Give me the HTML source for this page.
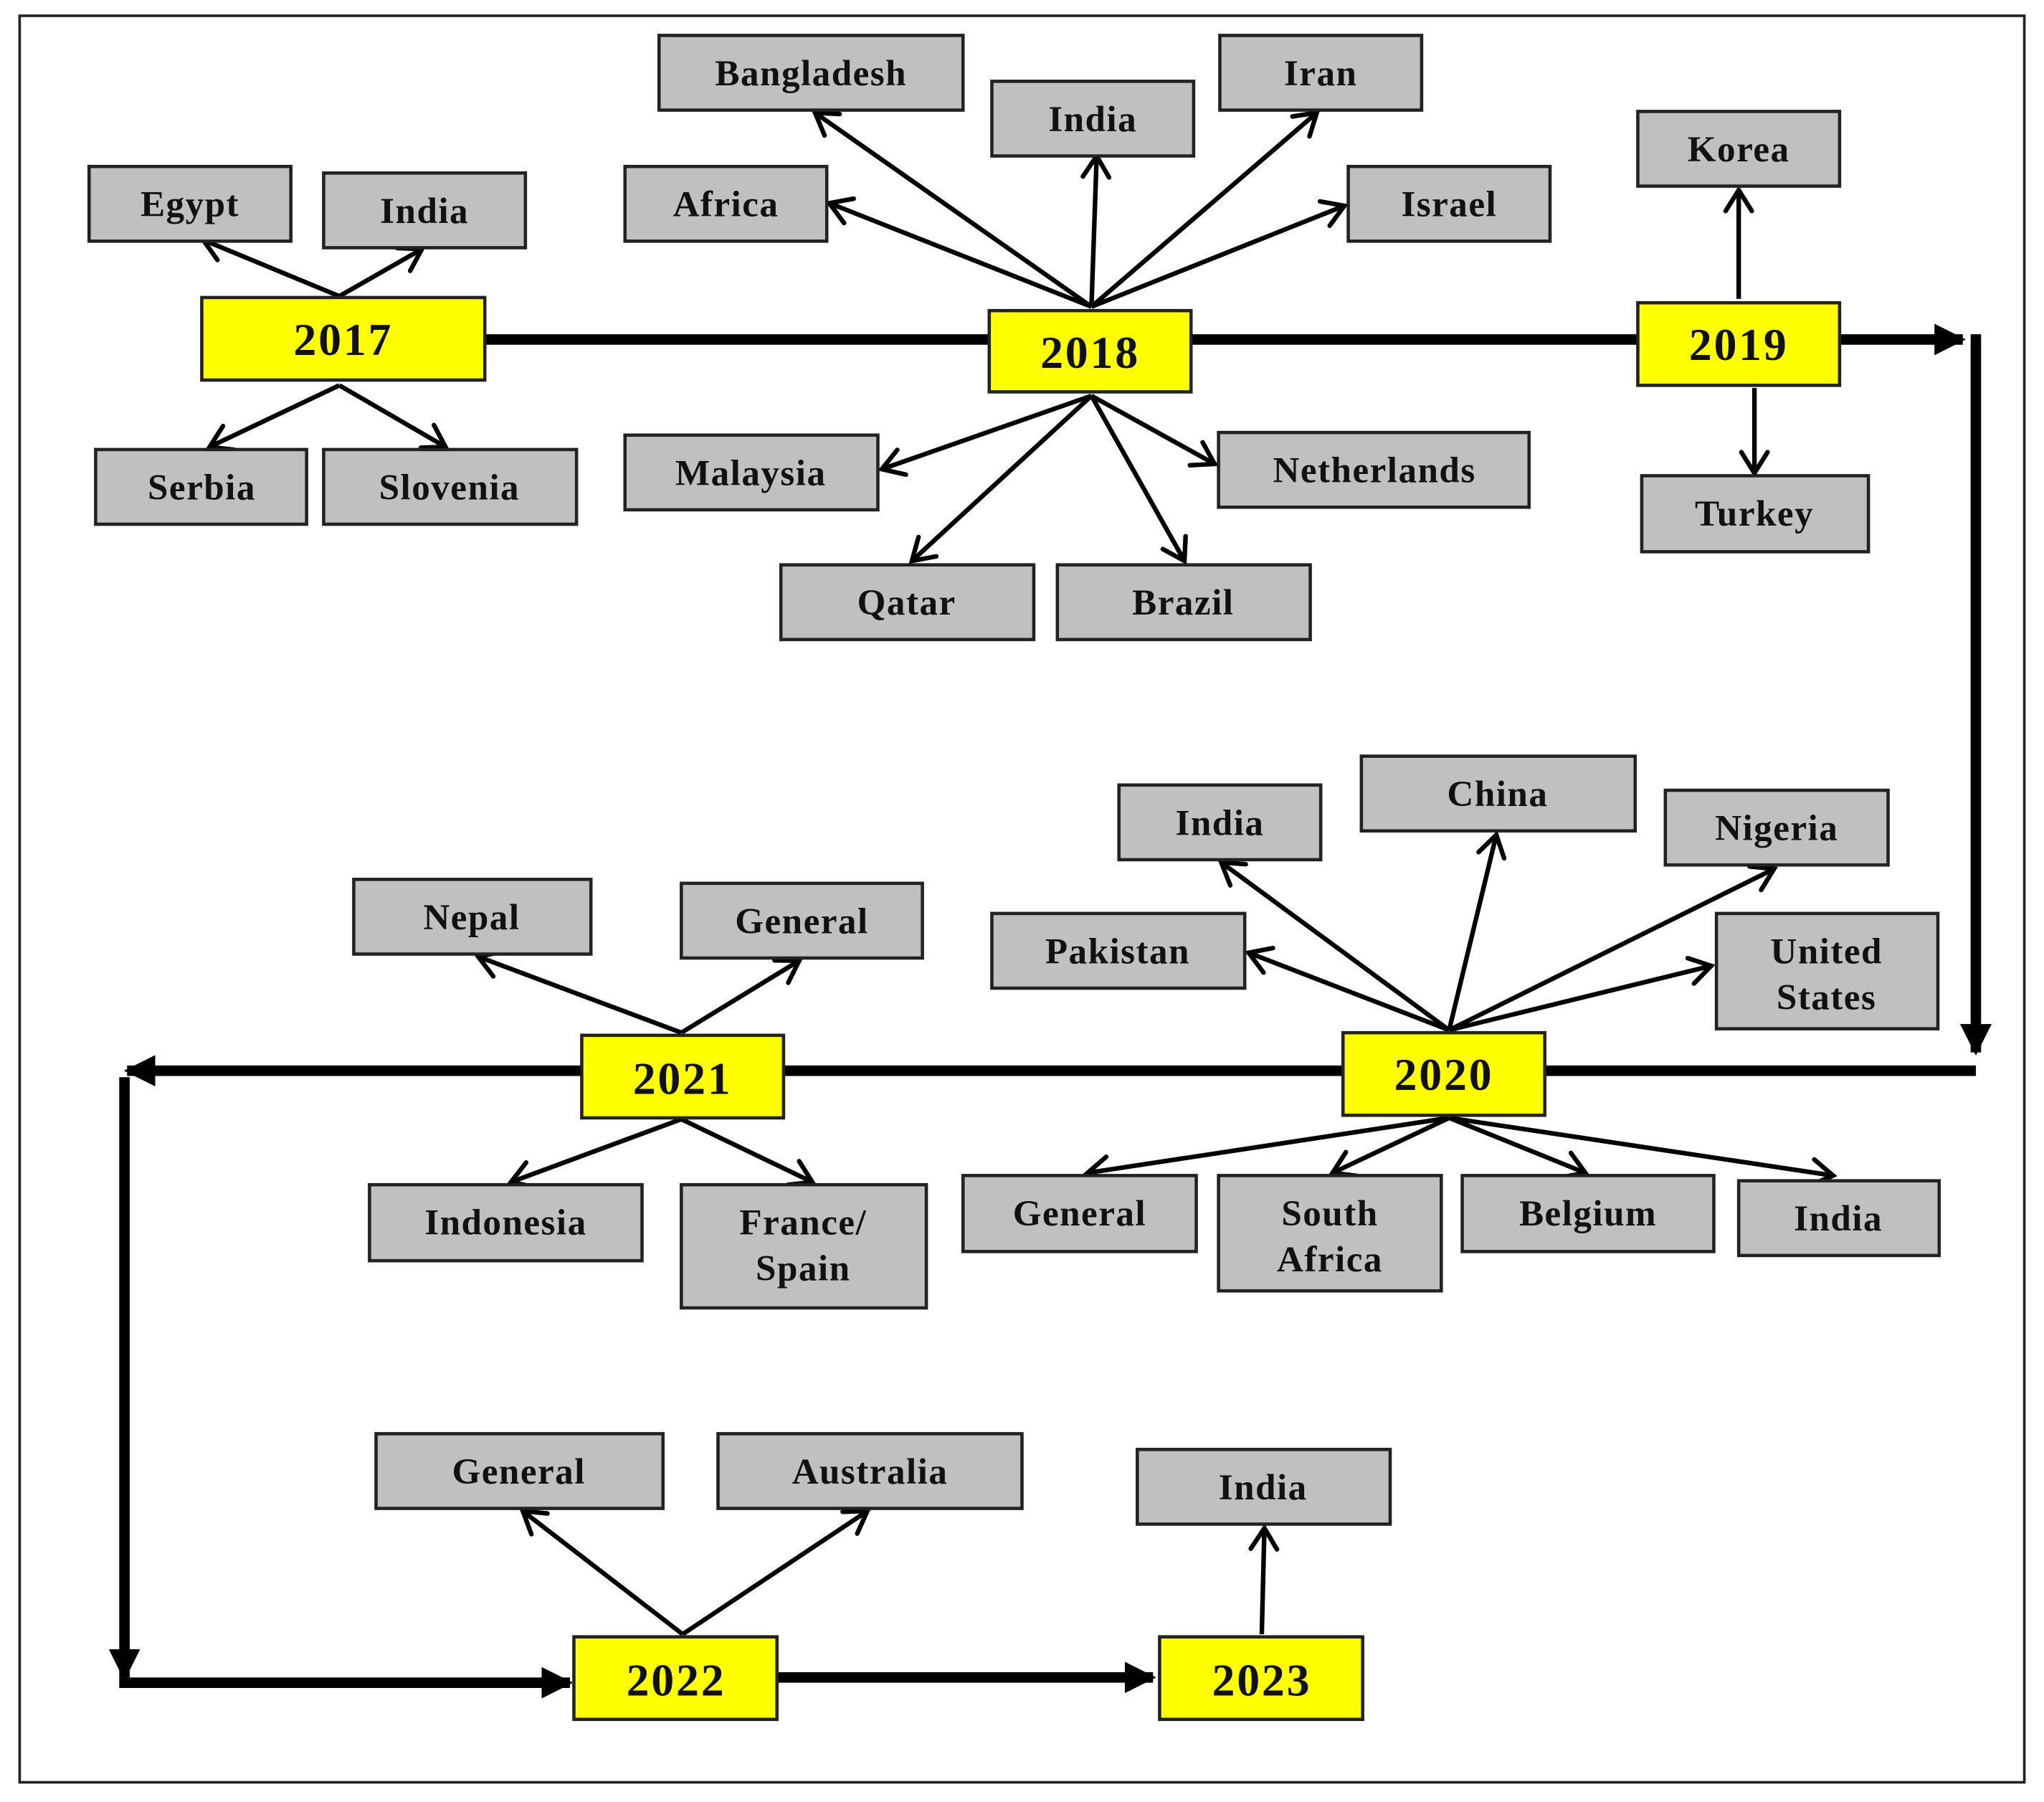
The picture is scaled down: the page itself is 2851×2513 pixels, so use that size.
<!DOCTYPE html>
<html><head><meta charset="utf-8"><style>
html,body{margin:0;padding:0;background:#fff;}
svg{display:block;}
text{font-family:"Liberation Serif",serif;font-weight:bold;fill:#111;text-anchor:middle;dominant-baseline:central;}
.c{font-size:28px;letter-spacing:0.8px;}
.y{font-size:35px;letter-spacing:1.5px;}
rect.g{fill:#c0c0c0;stroke:#222;stroke-width:2.5;}
rect.yb{fill:#ffff00;stroke:#222;stroke-width:2.5;}
line.a{stroke:#000;stroke-width:3.5;marker-end:url(#open);}
.t{stroke:#000;stroke-width:8;fill:none;}
</style></head><body>
<svg width="2851" height="2513" viewBox="0 0 1560 1375" xmlns="http://www.w3.org/2000/svg">
<defs>
<marker id="open" viewBox="0 0 24 24" refX="21" refY="12" markerWidth="24" markerHeight="24" orient="auto" markerUnits="userSpaceOnUse" style="overflow:visible">
<polyline points="5,2 21,12 5,22" fill="none" stroke="#000" stroke-width="3.5" stroke-linecap="round"/>
</marker>
<marker id="fill" viewBox="0 0 10 10" refX="9" refY="5" markerWidth="3" markerHeight="3" orient="auto">
<path d="M0,0 L10,5 L0,10 z" fill="#000"/>
</marker>
</defs>
<rect x="15" y="12" width="1530" height="1348" fill="#fff" stroke="#222" stroke-width="2"/>

<line class="t" x1="370" y1="259" x2="1498" y2="259" marker-end="url(#fill)"/>
<line class="t" x1="1508" y1="255" x2="1508" y2="803" marker-end="url(#fill)"/>
<line class="t" x1="1508" y1="817" x2="97" y2="817" marker-end="url(#fill)"/>
<line class="t" x1="95" y1="822" x2="95" y2="1280" marker-end="url(#fill)"/>
<line class="t" x1="91" y1="1284" x2="435" y2="1284" marker-end="url(#fill)"/>
<line class="t" x1="593" y1="1280" x2="880" y2="1280" marker-end="url(#fill)"/>

<g>
<line class="a" x1="259" y1="226" x2="155" y2="183"/>
<line class="a" x1="259" y1="226" x2="322" y2="190"/>
<line class="a" x1="259" y1="294" x2="160" y2="341"/>
<line class="a" x1="259" y1="294" x2="340" y2="341"/>

<line class="a" x1="833" y1="234" x2="622" y2="86"/>
<line class="a" x1="833" y1="234" x2="837" y2="119"/>
<line class="a" x1="833" y1="234" x2="1005" y2="86"/>
<line class="a" x1="833" y1="234" x2="633" y2="155"/>
<line class="a" x1="833" y1="234" x2="1026" y2="157"/>
<line class="a" x1="833" y1="302" x2="673" y2="358"/>
<line class="a" x1="833" y1="302" x2="927" y2="354"/>
<line class="a" x1="833" y1="302" x2="696" y2="428"/>
<line class="a" x1="833" y1="302" x2="904" y2="428"/>

<line class="a" x1="1327" y1="228" x2="1327" y2="145"/>
<line class="a" x1="1339" y1="296" x2="1339" y2="361"/>

<line class="a" x1="1106" y1="786" x2="932" y2="658"/>
<line class="a" x1="1106" y1="786" x2="1142" y2="637"/>
<line class="a" x1="1106" y1="786" x2="1354" y2="663"/>
<line class="a" x1="1106" y1="786" x2="953" y2="727"/>
<line class="a" x1="1106" y1="786" x2="1306" y2="737"/>
<line class="a" x1="1106" y1="853" x2="830" y2="895"/>
<line class="a" x1="1106" y1="853" x2="1017" y2="895"/>
<line class="a" x1="1106" y1="853" x2="1210" y2="895"/>
<line class="a" x1="1106" y1="853" x2="1399" y2="897"/>

<line class="a" x1="520" y1="788" x2="365" y2="730"/>
<line class="a" x1="520" y1="788" x2="610" y2="733"/>
<line class="a" x1="520" y1="854" x2="390" y2="902"/>
<line class="a" x1="520" y1="854" x2="620" y2="902"/>

<line class="a" x1="521" y1="1247" x2="399" y2="1153"/>
<line class="a" x1="521" y1="1247" x2="662" y2="1153"/>
<line class="a" x1="963" y1="1247" x2="965" y2="1166"/>
</g>

<rect class="yb" x="154" y="227" width="216" height="63"/><text class="y" x="262" y="259">2017</text>
<rect class="yb" x="755" y="237" width="154" height="62"/><text class="y" x="832" y="269">2018</text>
<rect class="yb" x="1250" y="231" width="154" height="63"/><text class="y" x="1327" y="263">2019</text>
<rect class="yb" x="1025" y="788" width="154" height="63"/><text class="y" x="1102" y="820">2020</text>
<rect class="yb" x="444" y="790" width="154" height="63"/><text class="y" x="521" y="823">2021</text>
<rect class="yb" x="438" y="1249" width="155" height="63"/><text class="y" x="516" y="1282">2022</text>
<rect class="yb" x="885" y="1249" width="155" height="63"/><text class="y" x="963" y="1282">2023</text>

<rect class="g" x="68" y="127" width="154" height="57"/><text class="c" x="145" y="156">Egypt</text>
<rect class="g" x="247" y="132" width="154" height="57"/><text class="c" x="324" y="161">India</text>
<rect class="g" x="73" y="343" width="161" height="57"/><text class="c" x="154" y="372">Serbia</text>
<rect class="g" x="247" y="343" width="193" height="57"/><text class="c" x="343" y="372">Slovenia</text>

<rect class="g" x="503" y="27" width="232" height="57"/><text class="c" x="619" y="56">Bangladesh</text>
<rect class="g" x="757" y="62" width="154" height="57"/><text class="c" x="834" y="91">India</text>
<rect class="g" x="931" y="27" width="154" height="57"/><text class="c" x="1008" y="56">Iran</text>
<rect class="g" x="477" y="127" width="154" height="57"/><text class="c" x="554" y="156">Africa</text>
<rect class="g" x="1029" y="127" width="154" height="57"/><text class="c" x="1106" y="156">Israel</text>
<rect class="g" x="477" y="332" width="193" height="57"/><text class="c" x="573" y="361">Malaysia</text>
<rect class="g" x="930" y="330" width="237" height="57"/><text class="c" x="1049" y="359">Netherlands</text>
<rect class="g" x="596" y="431" width="193" height="57"/><text class="c" x="692" y="460">Qatar</text>
<rect class="g" x="807" y="431" width="193" height="57"/><text class="c" x="903" y="460">Brazil</text>

<rect class="g" x="1250" y="85" width="154" height="57"/><text class="c" x="1327" y="114">Korea</text>
<rect class="g" x="1253" y="363" width="173" height="58"/><text class="c" x="1339" y="392">Turkey</text>

<rect class="g" x="854" y="599" width="154" height="57"/><text class="c" x="931" y="628">India</text>
<rect class="g" x="1039" y="577" width="209" height="57"/><text class="c" x="1143" y="606">China</text>
<rect class="g" x="1271" y="603" width="170" height="57"/><text class="c" x="1356" y="632">Nigeria</text>
<rect class="g" x="757" y="697" width="193" height="57"/><text class="c" x="853" y="726">Pakistan</text>
<rect class="g" x="1310" y="697" width="169" height="88"/><text class="c" x="1394" y="726">United</text><text class="c" x="1394" y="761">States</text>
<rect class="g" x="735" y="897" width="178" height="58"/><text class="c" x="824" y="926">General</text>
<rect class="g" x="930" y="897" width="170" height="88"/><text class="c" x="1015" y="926">South</text><text class="c" x="1015" y="961">Africa</text>
<rect class="g" x="1116" y="897" width="192" height="58"/><text class="c" x="1212" y="926">Belgium</text>
<rect class="g" x="1327" y="901" width="153" height="57"/><text class="c" x="1403" y="930">India</text>

<rect class="g" x="270" y="671" width="181" height="57"/><text class="c" x="360" y="700">Nepal</text>
<rect class="g" x="520" y="674" width="184" height="57"/><text class="c" x="612" y="703">General</text>
<rect class="g" x="282" y="904" width="208" height="58"/><text class="c" x="386" y="933">Indonesia</text>
<rect class="g" x="520" y="904" width="187" height="94"/><text class="c" x="613" y="933">France/</text><text class="c" x="613" y="968">Spain</text>

<rect class="g" x="287" y="1094" width="219" height="57"/><text class="c" x="396" y="1123">General</text>
<rect class="g" x="548" y="1094" width="232" height="57"/><text class="c" x="664" y="1123">Australia</text>
<rect class="g" x="868" y="1106" width="193" height="57"/><text class="c" x="964" y="1135">India</text>
</svg>
</body></html>
